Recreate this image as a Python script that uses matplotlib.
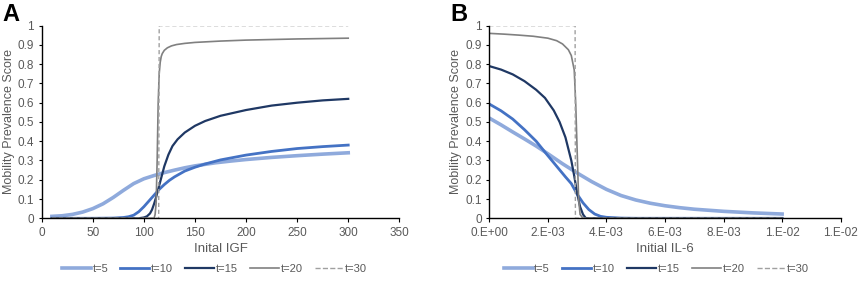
import matplotlib.pyplot as plt
from matplotlib.ticker import FuncFormatter
from matplotlib.lines import Line2D

# panel A: initial IGF
igf_t5_x = [10, 20, 30, 40, 50, 60, 70, 80, 90, 100, 110, 120, 130, 140, 150, 160, 170, 185, 200, 225, 250, 275, 300]
igf_t5_y = [0.01, 0.013, 0.02, 0.032, 0.05, 0.075, 0.108, 0.145, 0.18, 0.205, 0.222, 0.237, 0.25, 0.262, 0.272, 0.28, 0.288, 0.297, 0.305, 0.316, 0.325, 0.333, 0.34]
igf_t10_x = [10, 50, 70, 80, 85, 90, 95, 100, 105, 110, 115, 120, 125, 130, 140, 150, 160, 175, 200, 225, 250, 275, 300]
igf_t10_y = [0, 0, 0.001, 0.004, 0.008, 0.016, 0.034, 0.06, 0.09, 0.12, 0.15, 0.175, 0.197, 0.215, 0.245, 0.265, 0.282, 0.303, 0.328, 0.347, 0.362, 0.372, 0.38]
igf_t15_x = [10, 95, 100, 103, 106, 108, 110, 112, 114, 117, 120, 124, 128, 133, 140, 150, 160, 175, 200, 225, 250, 275, 300]
igf_t15_y = [0, 0, 0.004, 0.01, 0.025, 0.045, 0.075, 0.11, 0.15, 0.21, 0.27, 0.33, 0.375, 0.41, 0.445, 0.48, 0.505, 0.532, 0.562, 0.585, 0.6, 0.612, 0.62]
igf_t20_x = [10, 110, 111, 112, 113, 114, 115, 116, 117, 118, 120, 123, 127, 132, 140, 150, 175, 200, 250, 300]
igf_t20_y = [0, 0, 0.02, 0.08, 0.3, 0.6, 0.75, 0.81, 0.84, 0.855, 0.872, 0.885, 0.895, 0.902, 0.908, 0.913, 0.92, 0.925, 0.931, 0.935]
igf_t30_x = [10, 114.5, 115, 300]
igf_t30_y = [0, 0, 1, 1]

# panel B: initial IL-6
il6_t5_x = [0, 0.0004, 0.0008, 0.0012, 0.0016, 0.002, 0.0025, 0.003, 0.0035, 0.004, 0.0045, 0.005, 0.0055, 0.006, 0.0065, 0.007, 0.008, 0.009, 0.01]
il6_t5_y = [0.52, 0.485, 0.448, 0.412, 0.375, 0.335, 0.283, 0.235, 0.19, 0.15, 0.118, 0.095, 0.078, 0.065, 0.055, 0.047, 0.036, 0.028, 0.022]
il6_t10_x = [0, 0.0004, 0.0008, 0.0012, 0.0016, 0.002, 0.0023, 0.0026, 0.0028, 0.003, 0.0032, 0.0034, 0.0036, 0.0038, 0.004, 0.0045, 0.005, 0.01]
il6_t10_y = [0.593, 0.558, 0.515, 0.46, 0.4, 0.325, 0.27, 0.215, 0.18, 0.125, 0.08, 0.045, 0.022, 0.01, 0.005, 0.001, 0, 0]
il6_t15_x = [0, 0.0004, 0.0008, 0.0012, 0.0016, 0.0019, 0.0022, 0.0024, 0.0026, 0.0028, 0.0029, 0.003, 0.0031, 0.0032, 0.0033, 0.01]
il6_t15_y = [0.79, 0.772, 0.747, 0.712, 0.667, 0.625, 0.56, 0.5, 0.42, 0.3, 0.22, 0.13, 0.06, 0.02, 0, 0]
il6_t20_x = [0, 0.0005, 0.001, 0.0015, 0.002, 0.0023, 0.0025, 0.0027, 0.0028, 0.0029, 0.00295, 0.003, 0.00305, 0.0031, 0.0032, 0.01]
il6_t20_y = [0.96, 0.956, 0.951, 0.945, 0.935, 0.922, 0.905, 0.875, 0.845, 0.77, 0.6, 0.35, 0.1, 0.02, 0, 0]
il6_t30_x = [0, 0.00293, 0.00294, 0.01]
il6_t30_y = [1, 1, 0, 0]

labels = ["t=5", "t=10", "t=15", "t=20", "t=30"]
colors = ["#8FAADC", "#4472C4", "#1F3864", "#808080", "#A0A0A0"]
widths = [2.6, 2.0, 1.6, 1.2, 1.0]
styles = ["-", "-", "-", "-", "--"]

txt = "#595959"
plt.rcParams["font.family"] = "Liberation Sans"

fig = plt.figure(figsize=(8.58, 2.82), dpi=100)
axA = fig.add_axes([0.0486, 0.226, 0.4168, 0.683])
axB = fig.add_axes([0.5703, 0.226, 0.4095, 0.683])

seriesA = [(igf_t5_x, igf_t5_y), (igf_t10_x, igf_t10_y), (igf_t15_x, igf_t15_y),
           (igf_t20_x, igf_t20_y), (igf_t30_x, igf_t30_y)]
seriesB = [(il6_t5_x, il6_t5_y), (il6_t10_x, il6_t10_y), (il6_t15_x, il6_t15_y),
           (il6_t20_x, il6_t20_y), (il6_t30_x, il6_t30_y)]

for ax, series in [(axA, seriesA), (axB, seriesB)]:
    for (x, y), c, w, s in zip(series, colors, widths, styles):
        if s == "--":
            ax.plot(x, y, color=c, lw=w, dashes=(3, 2))
        else:
            ax.plot(x, y, color=c, lw=w, solid_joinstyle="round")
    ax.set_ylim(0, 1)
    ax.set_yticks([i / 10 for i in range(11)])
    ax.set_yticklabels(["0"] + [f"{i/10:.1f}" for i in range(1, 10)] + ["1"])
    for sp in ["top", "right"]:
        ax.spines[sp].set_visible(False)
    for sp in ["left", "bottom"]:
        ax.spines[sp].set_color("black")
        ax.spines[sp].set_linewidth(1.0)
    ax.tick_params(axis="y", length=2.5, direction="out", labelsize=8.5, labelcolor=txt, pad=3)
    ax.tick_params(axis="x", length=3, direction="out", labelsize=8.5, labelcolor=txt, pad=3)
    ax.set_ylabel("Mobility Prevalence Score", fontsize=9, color=txt, labelpad=2)

axA.set_xlim(0, 350)
axA.set_xticks(range(0, 351, 50))
axA.set_xlabel("Inital IGF", fontsize=9.5, color=txt, labelpad=3)

axB.set_xlim(0, 0.012)
axB.set_xticks([0, 0.002, 0.004, 0.006, 0.008, 0.010, 0.012])

def sci(v, pos):
    if v == 0:
        return "0.E+00"
    m, e = f"{v:.0E}".split("E")
    return f"{m}.E{e}"

axB.xaxis.set_major_formatter(FuncFormatter(sci))
axB.set_xlabel("Initial IL-6", fontsize=9.5, color=txt, labelpad=3)

handles = [Line2D([], [], color=c, lw=w, ls=s) for c, w, s in zip(colors, widths, styles)]
for cx in [0.25, 0.765]:
    fig.legend(handles, labels, loc="center", bbox_to_anchor=(cx, 0.045), ncol=5,
               frameon=False, fontsize=8, labelcolor=txt, handlelength=2.6,
               handletextpad=0.15, columnspacing=1.1)

fig.text(0.003, 0.925, "A", fontsize=17, fontweight="bold", color="black")
fig.text(0.525, 0.925, "B", fontsize=17, fontweight="bold", color="black")

fig.savefig("out.png", dpi=100)
